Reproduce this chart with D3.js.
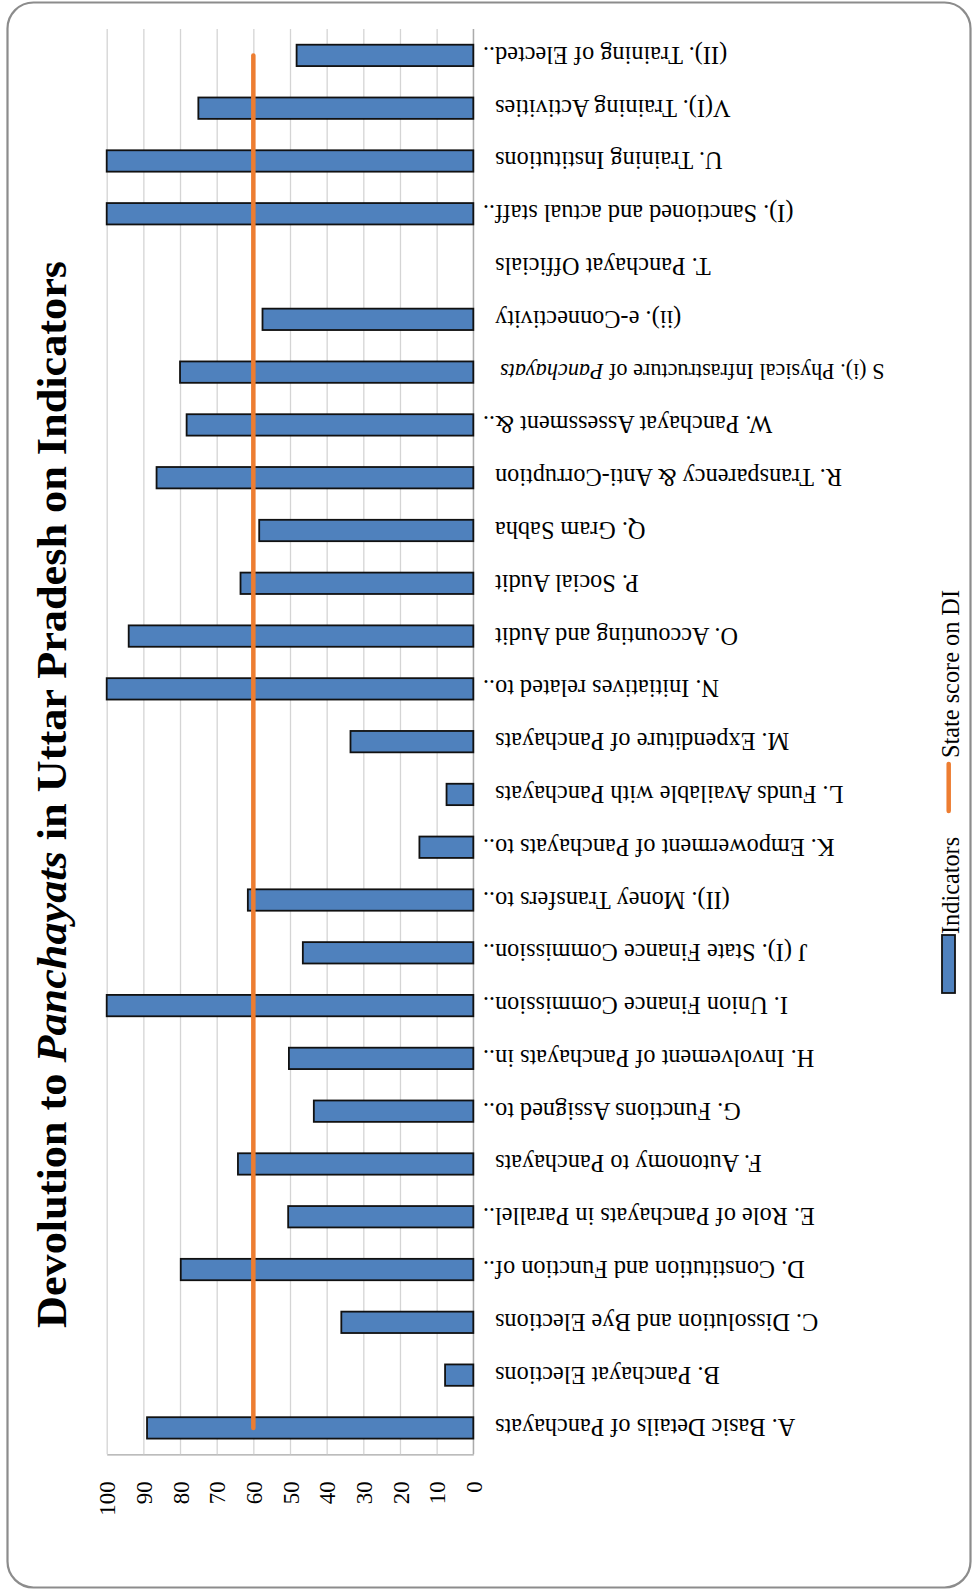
<!DOCTYPE html>
<html>
<head>
<meta charset="utf-8">
<script src="https://cdn.jsdelivr.net/npm/d3@7"></script>
<style>
  body { margin: 0; background: #ffffff; overflow: hidden; }
  text { font-family: "Liberation Serif", "Times New Roman", serif; fill: #000; }
</style>
</head>
<body>
<svg id="chart" width="973" height="1590"></svg>
<script>
//-----------------------------------
//  Devolution index bar chart
//  (chart is drawn turned on its side)
//-----------------------------------

//=================================
//            Data
//=================================
//Indicators, from A (bottom) to the last one (top). _x_ = italic
var categories = [
  "A. Basic Details of Panchayats",
  "B. Panchayat Elections",
  "C. Dissolution and Bye Elections",
  "D. Constitution and Function of..",
  "E. Role of Panchayats in Parallel..",
  "F. Autonomy to Panchayats",
  "G. Functions Assigned to..",
  "H. Involvement of Panchayats in..",
  "I. Union Finance Commission..",
  "J (I). State Finance Commission..",
  "(II). Money Transfers to..",
  "K. Empowerment of Panchayats to..",
  "L. Funds Available with Panchayats",
  "M. Expenditure of Panchayats",
  "N. Initiatives related to..",
  "O. Accounting and Audit",
  "P. Social Audit",
  "Q. Gram Sabha",
  "R. Transparency & Anti-Corruption",
  "W. Panchayat Assessment &..",
  "S (i). Physical Infrastructure of _Panchayats_",
  "(ii). e-Connectivity",
  "T. Panchayat Officials",
  "(I). Sanctioned and actual staff..",
  "U. Training Institutions",
  "V(I). Training Activities",
  "(II). Training of Elected.."
];

var indicatorValues = [89, 7.7, 36, 79.8, 50.5, 64.2, 43.5, 50.3, 100, 46.5,
                       61.5, 14.7, 7.3, 33.5, 100, 94, 63.5, 58.4, 86.4, 78.2,
                       80, 57.5, 0, 100, 100, 75, 48.2];

var stateScore = 60;//State score on DI, same for every indicator

var valueTicks = [0, 10, 20, 30, 40, 50, 60, 70, 80, 90, 100];

var seriesNames = ["Indicators", "State score on DI"];

var titleParts = ["Devolution to ", "_Panchayats_", " in Uttar Pradesh on Indicators"];

//=================================
//       Canvas and Scales
//=================================
var plotLeft = 106.7, plotRight = 473.3;//value 100 on the left, 0 on the right
var plotTop = 29, plotBottom = 1454.3;

var blue = "#4f81bd";
var orange = "#ed7d31";
var labelSize = 24.3;

var svg = d3.select("#chart");

//Rounded frame round the whole chart
svg.append("rect")
  .attr("x", 7.5).attr("y", 2.5)
  .attr("width", 963).attr("height", 1585)
  .attr("rx", 26).attr("ry", 26)
  .attr("fill", "#ffffff")
  .attr("stroke", "#8c8c8c")
  .attr("stroke-width", 2.2);

var x = d3.scaleLinear().domain([0, 100]).range([plotRight, plotLeft]);

var y = d3.scaleBand()
  .domain(categories)
  .range([plotBottom, plotTop])
  .paddingInner(0.595)
  .paddingOuter(0.2975);

//Adds a text made of plain and _italic_ pieces
function richText(sel, str) {
  str.split(/(_[^_]+_)/).forEach(function(part) {
    if (!part) return;
    var italic = part.charAt(0) == "_";
    sel.append("tspan")
      .style("font-style", italic ? "italic" : null)
      .text(italic ? part.slice(1, -1) : part);
  });
}

//========================
//   Gridlines and axes
//========================
var axis = svg.append("g")
  .attr("transform", "translate(0," + plotBottom + ")")
  .call(d3.axisBottom(x)
    .tickValues(valueTicks)
    .tickSize(-(plotBottom - plotTop))
    .tickSizeOuter(0));

axis.select(".domain").attr("stroke", "#a6a6a6").attr("stroke-width", 1.2);
axis.selectAll(".tick line").attr("stroke", "#d4d4d4").attr("stroke-width", 1.3);
//Tick labels read bottom to top, ending just under the plot
axis.selectAll(".tick text")
  .attr("transform", "rotate(-90)")
  .attr("x", -27)
  .attr("y", 0)
  .attr("dy", "0.35em")
  .attr("text-anchor", "end")
  .style("font-family", "'Liberation Serif', 'Times New Roman', serif")
  .style("font-size", "23px")
  .attr("fill", "#000");

//Category axis line at value 0
svg.append("line")
  .attr("x1", x(0)).attr("x2", x(0))
  .attr("y1", plotTop).attr("y2", plotBottom)
  .attr("stroke", "#a6a6a6")
  .attr("stroke-width", 1.2);

//========================
//        Bars
//========================
svg.append("g").selectAll("rect")
  .data(categories)
  .join("rect")
  .attr("x", function(d, i) { return x(indicatorValues[i]); })
  .attr("y", function(d) { return y(d); })
  .attr("width", function(d, i) { return x(0) - x(indicatorValues[i]); })
  .attr("height", y.bandwidth())
  .attr("fill", blue)
  .attr("stroke", "#111")
  .attr("stroke-width", 1.8)
  .style("display", function(d, i) { return indicatorValues[i] > 0 ? null : "none"; });

//========================
//   State score line
//========================
var scoreLine = d3.line()
  .x(function() { return x(stateScore); })
  .y(function(d) { return y(d) + y.bandwidth() / 2; });

svg.append("path")
  .datum(categories)
  .attr("d", scoreLine)
  .attr("fill", "none")
  .attr("stroke", orange)
  .attr("stroke-width", 4.5)
  .attr("stroke-linecap", "round");

//========================
//   Category labels
//========================
//Labels are upside down; the ".." of cut labels hangs past the others
var labelX = 495;
var labels = svg.append("g").selectAll("g")
  .data(categories)
  .join("g")
  .attr("transform", function(d) {
    return "translate(" + labelX + "," + (y(d) + y.bandwidth() / 2) + ") rotate(180)";
  })
  //the label with italics is set a little smaller in the original
  .style("font-size", function(d) { return (d.indexOf("_") >= 0 ? 22.2 : labelSize) + "px"; });

labels.append("text")
  .attr("text-anchor", "end")
  .attr("dx", function(d) { return d.indexOf("_") >= 0 ? -5 : 0; })
  .attr("dy", "0.35em")
  .each(function(d) { richText(d3.select(this), d.replace(/\.\.$/, "")); });

labels.filter(function(d) { return /\.\.$/.test(d); })
  .append("text")
  .attr("text-anchor", "start")
  .attr("dy", "0.35em")
  .text("..");

//========================
//        Title
//========================
var title = svg.append("text")
  .attr("transform", "translate(66,794.5) rotate(-90)")
  .attr("text-anchor", "middle")
  .attr("textLength", 1067)
  .attr("lengthAdjust", "spacingAndGlyphs")
  .style("font-size", "42px")
  .style("font-weight", "bold");
richText(title, titleParts.join(""));

//========================
//        Legend
//========================
var legend = svg.append("g");

legend.append("rect")
  .attr("x", 942).attr("y", 935)
  .attr("width", 13).attr("height", 58)
  .attr("fill", blue)
  .attr("stroke", "#111")
  .attr("stroke-width", 1.8);

legend.append("text")
  .attr("transform", "translate(958.5,934) rotate(-90)")
  .style("font-size", labelSize + "px")
  .text(seriesNames[0]);

legend.append("line")
  .attr("x1", 948.7).attr("x2", 948.7)
  .attr("y1", 811).attr("y2", 764)
  .attr("stroke", orange)
  .attr("stroke-width", 4.5)
  .attr("stroke-linecap", "round");

legend.append("text")
  .attr("transform", "translate(958.5,758) rotate(-90)")
  .style("font-size", labelSize + "px")
  .text(seriesNames[1]);
</script>
</body>
</html>
